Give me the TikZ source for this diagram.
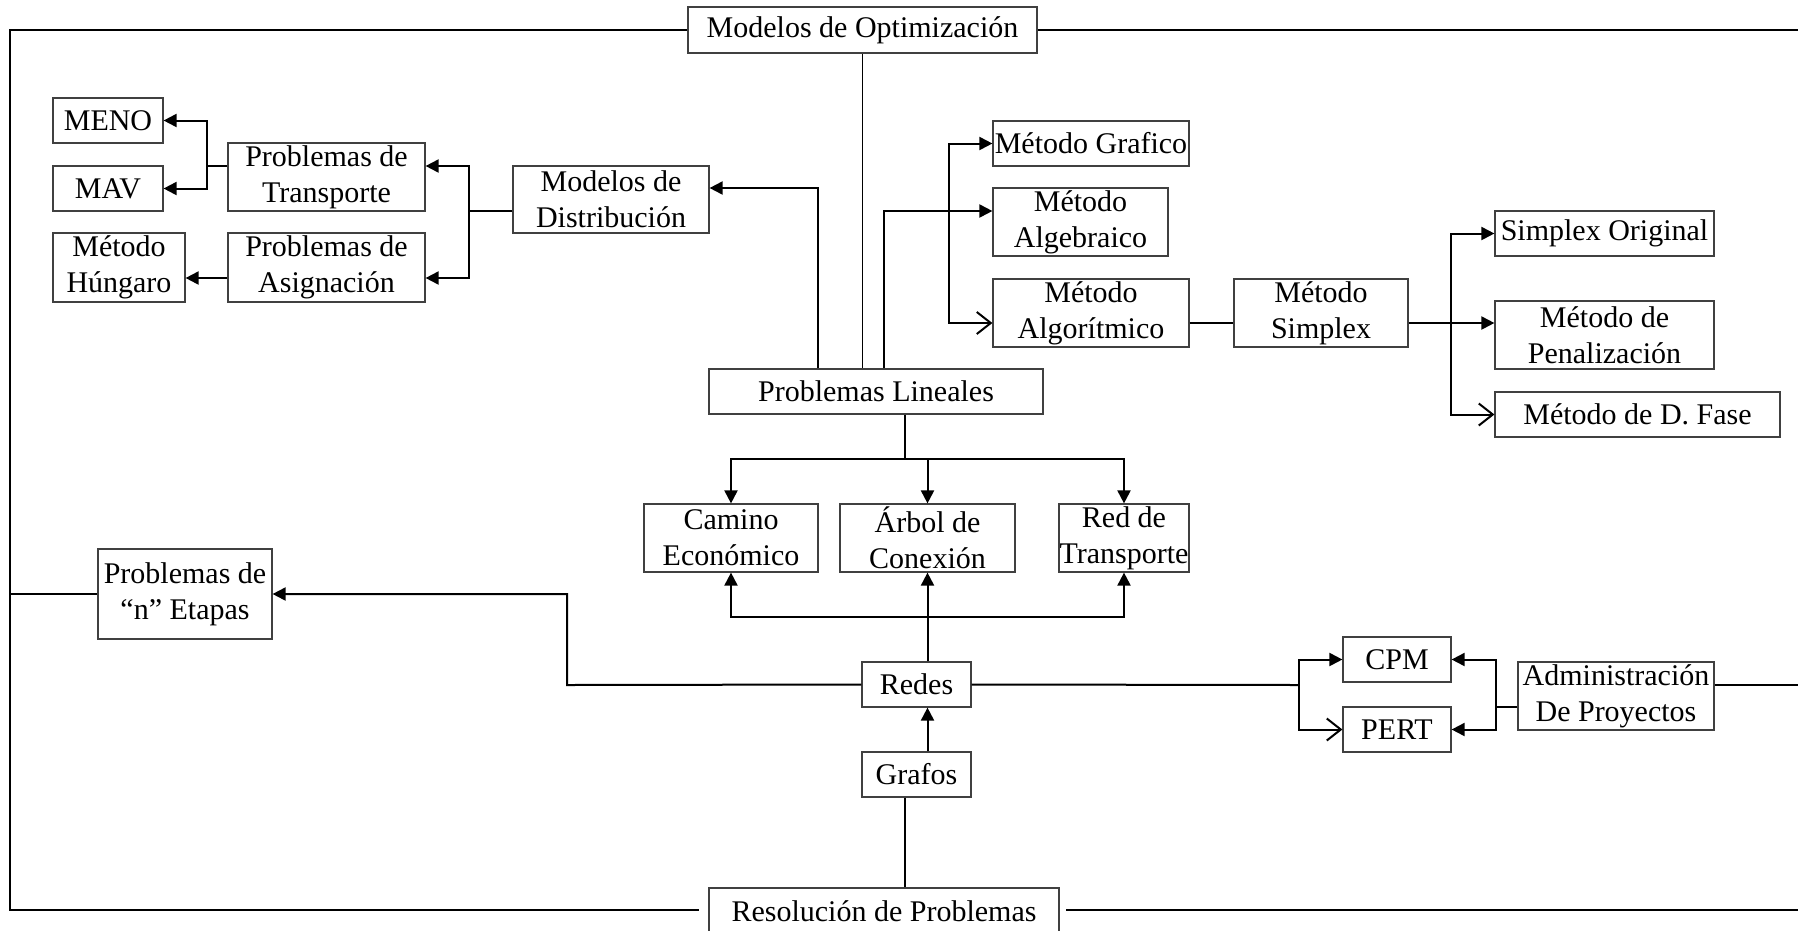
\documentclass[tikz,border=0pt]{standalone}
\usepackage{fontspec}
\setmainfont{Liberation Serif}
\usetikzlibrary{arrows.meta}

\tikzset{
  caja/.style={draw=black!75, line width=1.2pt, inner sep=0pt, align=center,
    font=\fontsize{30}{36}\selectfont},
  linea/.style={line width=2pt},
  fina/.style={line width=1.3pt},
  flecha/.style={linea, -{Triangle[length=13pt,width=13pt]}},
  abierta/.style={linea, -{Straight Barb[length=14pt,width=22pt]}},
}

\begin{document}
\begin{tikzpicture}[x=1pt, y=-1pt]
  \useasboundingbox (0,0) rectangle (1798,930);

  \node[caja, minimum width=349pt, minimum height=46pt] (opt) at (862.5,30) {Modelos de Optimización};
  \node[caja, minimum width=110pt, minimum height=45pt] (meno) at (108,120.5) {MENO};
  \node[caja, minimum width=110pt, minimum height=45pt] (mav) at (108,188.5) {MAV};
  \node[caja, minimum width=132pt, minimum height=69pt] (hung) at (119,267.5) {Método\\Húngaro};
  \node[caja, minimum width=197pt, minimum height=68pt] (ptra) at (326.5,177) {Problemas de\\Transporte};
  \node[caja, minimum width=197pt, minimum height=69pt] (pasig) at (326.5,267.5) {Problemas de\\Asignación};
  \node[caja, minimum width=196pt, minimum height=67pt] (mdist) at (611,199.5) {Modelos de\\Distribución};
  \node[caja, minimum width=196pt, minimum height=45pt] (mgraf) at (1091,143.5) {Método Grafico};
  \node[caja, minimum width=175pt, minimum height=68pt] (malgeb) at (1080.5,222) {Método\\Algebraico};
  \node[caja, minimum width=196pt, minimum height=68pt] (malgor) at (1091,313) {Método\\Algorítmico};
  \node[caja, minimum width=174pt, minimum height=68pt] (msimp) at (1321,313) {Método\\Simplex};
  \node[caja, minimum width=219pt, minimum height=45pt] (sorig) at (1604.5,233.5) {Simplex Original};
  \node[caja, minimum width=219pt, minimum height=68pt] (penal) at (1604.5,335) {Método de\\Penalización};
  \node[caja, minimum width=285pt, minimum height=45pt] (dfase) at (1637.5,414.5) {Método de D. Fase};
  \node[caja, minimum width=334pt, minimum height=45pt] (plin) at (876,391.5) {Problemas Lineales};
  \node[caja, minimum width=174pt, minimum height=68pt] (camino) at (731,538) {Camino\\Económico};
  \node[caja, minimum width=175pt, minimum height=68pt] (arbol) at (927.5,538) {Árbol de\\Conexión};
  \node[caja, minimum width=130pt, minimum height=68pt] (redt) at (1124,538) {Red de\\Transporte};
  \node[caja, minimum width=174pt, minimum height=90pt] (netapas) at (185,594) {Problemas de\\“n” Etapas};
  \node[caja, minimum width=109pt, minimum height=45pt] (redes) at (916.5,684.5) {Redes};
  \node[caja, minimum width=109pt, minimum height=45pt] (grafos) at (916.5,774.5) {Grafos};
  \node[caja, minimum width=108pt, minimum height=45pt] (cpm) at (1397,659.5) {CPM};
  \node[caja, minimum width=108pt, minimum height=45pt] (pert) at (1397,729.5) {PERT};
  \node[caja, minimum width=196pt, minimum height=68pt] (admin) at (1616,696) {Administración\\De Proyectos};
  \node[caja, minimum width=350pt, minimum height=46pt] (resol) at (884,911) {Resolución de Problemas};

  \coordinate (esqA) at (10,30);
  \coordinate (esqB) at (10,910);
  \coordinate (finA) at (1798,30);
  \coordinate (finB) at (1798,685);
  \coordinate (finC) at (1798,910);
  \coordinate (cortB) at (699,910);
  \coordinate (cortC) at (1066,910);
  \draw[linea] (opt.west) -- (esqA) -- (esqB) -- (cortB);
  \draw[linea] (opt.east) -- (finA);
  \draw[linea] (cortC) -- (finC);
  \draw[linea] (esqA |- netapas.west) -- (netapas.west);
  \draw[linea] (admin.east |- finB) -- (finB);

  \coordinate (jdist) at (818,188);
  \coordinate (jalg) at (884,211);
  \coordinate (jmet) at (949,211);
  \coordinate (jalgor) at (949,323);
  \coordinate (jsimp) at (1451,323);
  \draw[fina] (opt.south) -- (opt.south |- plin.north);
  \draw[flecha] (plin.north -| jdist) -- (jdist) -- (mdist.east |- jdist);
  \draw[flecha] (plin.north -| jalg) -- (jalg) -- (malgeb.west |- jalg);
  \draw[flecha] (jmet) |- (mgraf.west);
  \draw[abierta] (jmet) -- (jalgor) -- (malgor.west |- jalgor);
  \draw[linea] (malgor.east |- jalgor) -- (msimp.west |- jalgor);
  \draw[flecha] (msimp.east |- jsimp) -- (penal.west |- jsimp);
  \draw[flecha] (jsimp) |- (sorig.west);
  \draw[abierta] (jsimp) |- (dfase.west);

  \coordinate (jtra) at (469,211);
  \coordinate (jtra1) at (469,166);
  \coordinate (jtra2) at (469,278);
  \coordinate (jmav) at (207,166);
  \draw[linea] (mdist.west |- jtra) -- (jtra);
  \draw[flecha] (jtra) -- (jtra1) -- (ptra.east |- jtra1);
  \draw[flecha] (jtra) -- (jtra2) -- (pasig.east |- jtra2);
  \draw[linea] (ptra.west |- jmav) -- (jmav);
  \draw[flecha] (jmav) |- (meno.east);
  \draw[flecha] (jmav) |- (mav.east);
  \draw[flecha] (pasig.west |- jtra2) -- (hung.east |- jtra2);

  \coordinate (jlin) at (905,459);
  \coordinate (jred) at (928,617);
  \draw[fina] (plin.south -| jlin) -- (jlin);
  \draw[flecha] (jlin) -| (camino.north);
  \draw[flecha] (jlin) -| (arbol.north);
  \draw[flecha] (jlin) -| (redt.north);
  \draw[flecha] (redes.north -| arbol.south) -- (arbol.south);
  \draw[flecha] (jred) -| (camino.south);
  \draw[flecha] (jred) -| (redt.south);
  \draw[flecha] (grafos.north -| arbol.south) -- (redes.south -| arbol.south);
  \draw[fina] (grafos.south -| jlin) -- (resol.north -| jlin);

  \coordinate (jetap) at (567,685);
  \coordinate (jcpm) at (1299,685);
  \coordinate (jadm) at (1496,707);
  \draw[flecha] (redes.west) -- (jetap) |- (netapas.east);
  \draw[linea] (redes.east) -- (jcpm);
  \draw[flecha] (jcpm) |- (cpm.west);
  \draw[abierta] (jcpm) |- (pert.west);
  \draw[linea] (admin.west |- jadm) -- (jadm);
  \draw[flecha] (jadm) |- (cpm.east);
  \draw[flecha] (jadm) |- (pert.east);
\end{tikzpicture}
\end{document}
